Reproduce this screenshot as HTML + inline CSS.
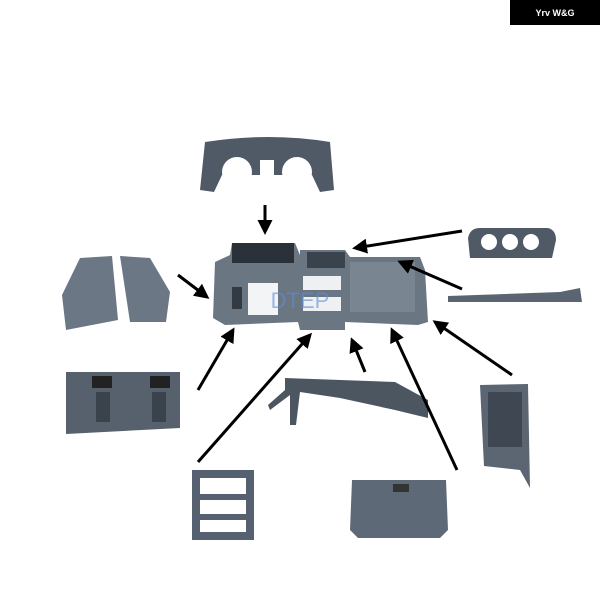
<!DOCTYPE html>
<html><head><meta charset="utf-8"><style>
html,body{margin:0;padding:0;background:#fff;}
svg{display:block}
</style></head><body>
<svg width="600" height="600" viewBox="0 0 600 600" xmlns="http://www.w3.org/2000/svg">
<defs>
<marker id="a" viewBox="0 0 10 10" refX="8" refY="5" markerWidth="5" markerHeight="5" orient="auto"><path d="M0,0 L10,5 L0,10 z" fill="#000"/></marker>
</defs>
<rect x="510" y="0" width="90" height="25" fill="#000"/>
<text x="555" y="16" font-family="Liberation Sans, sans-serif" font-size="9" font-weight="bold" fill="#fff" text-anchor="middle">Yrv W&amp;G</text>

<!-- top instrument hood -->
<path d="M205,142 Q270,132 330,142 L334,190 L320,192 L312,175 L222,175 L214,192 L200,190 Z" fill="#4f5a66"/>
<circle cx="237" cy="172" r="15" fill="#fff"/><circle cx="297" cy="172" r="15" fill="#fff"/>
<rect x="260" y="160" width="14" height="25" fill="#fff"/>

<!-- main dashboard -->
<path d="M215,262 L230,255 L232,243 L295,243 L300,255 L300,250 L305,250 L345,250 L350,257 L420,257 L425,270 L428,322 L418,325 L345,322 L345,330 L300,330 L298,322 L225,325 L213,318 Z" fill="#6b7683"/>
<rect x="232" y="243" width="62" height="20" fill="#2b3138"/>
<rect x="307" y="252" width="38" height="16" fill="#3a424b"/>
<rect x="350" y="262" width="65" height="50" fill="#7a8592"/>
<path d="M248,283 L278,283 L278,315 L248,315 Z" fill="#f2f4f6"/>
<rect x="303" y="276" width="38" height="14" fill="#eef0f2"/>
<rect x="303" y="297" width="38" height="14" fill="#eef0f2"/>
<rect x="232" y="287" width="10" height="22" fill="#333a42"/>
<text x="300" y="308" font-family="Liberation Sans, sans-serif" font-size="22" fill="#5a8ed8" opacity="0.6" text-anchor="middle">DTEP</text>

<!-- gauge pod right -->
<path d="M468,238 Q470,228 480,228 L548,228 Q556,230 556,240 L552,258 L470,258 Z" fill="#4f5a66"/>
<circle cx="489" cy="242" r="8" fill="#fff"/><circle cx="510" cy="242" r="8" fill="#fff"/><circle cx="531" cy="242" r="8" fill="#fff"/>

<!-- bar -->
<path d="M448,296 L560,292 L580,288 L582,302 L560,302 L448,302 Z" fill="#5a6571"/>

<!-- left side panels -->
<path d="M80,258 L112,256 L118,320 L66,330 L62,295 Z" fill="#6b7785"/>
<path d="M120,256 L150,258 L170,292 L166,322 L130,322 Z" fill="#6b7785"/>

<!-- lower left panel -->
<path d="M66,372 L180,372 L180,428 L66,434 Z" fill="#56616d"/>
<rect x="92" y="376" width="20" height="12" fill="#222"/><rect x="150" y="376" width="20" height="12" fill="#222"/>
<rect x="96" y="392" width="14" height="30" fill="#3a424b"/><rect x="152" y="392" width="14" height="30" fill="#3a424b"/>

<!-- center lower dash part -->
<path d="M285,378 L395,382 L428,400 L428,418 L395,410 L340,398 L300,392 L296,425 L290,425 L290,395 L270,410 L268,405 L285,390 Z" fill="#4c5661"/>

<!-- right side panel -->
<path d="M480,385 L528,384 L530,488 L520,470 L484,466 Z" fill="#5b6672"/>
<rect x="488" y="392" width="34" height="55" fill="#3f4852"/>

<!-- bottom bezel -->
<rect x="192" y="470" width="62" height="70" fill="#556070"/>
<rect x="200" y="478" width="46" height="16" fill="#fff"/><rect x="200" y="500" width="46" height="14" fill="#fff"/><rect x="200" y="520" width="46" height="12" fill="#fff"/>

<!-- glovebox -->
<path d="M352,480 L446,480 L448,530 L440,538 L358,538 L350,530 Z" fill="#5e6977"/>
<rect x="393" y="484" width="16" height="8" fill="#333"/>

<!-- arrows -->
<g stroke="#000" stroke-width="3" fill="none" marker-end="url(#a)">
<line x1="265" y1="205" x2="265" y2="232"/>
<line x1="178" y1="275" x2="207" y2="297"/>
<line x1="462" y1="231" x2="355" y2="248"/>
<line x1="462" y1="289" x2="400" y2="262"/>
<line x1="198" y1="390" x2="233" y2="330"/>
<line x1="198" y1="462" x2="310" y2="335"/>
<line x1="365" y1="372" x2="352" y2="340"/>
<line x1="457" y1="470" x2="392" y2="330"/>
<line x1="512" y1="375" x2="435" y2="322"/>
</g>
</svg>
</body></html>
